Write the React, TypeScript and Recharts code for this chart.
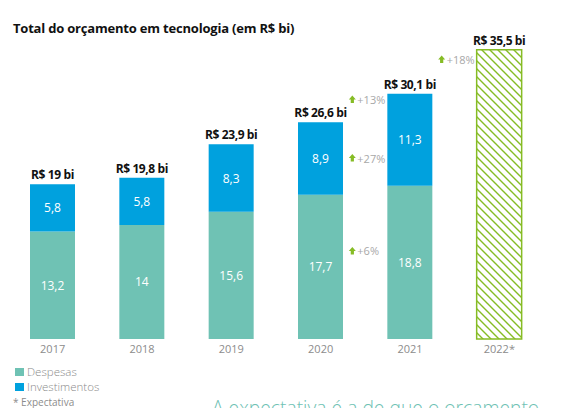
import React from "react";
import { BarChart, Bar, XAxis, YAxis, LabelList, ReferenceDot } from "recharts";

const years = ["2017", "2018", "2019", "2020", "2021", "2022*"];
const despesas = [13.2, 14, 15.6, 17.7, 18.8, null];
const investimentos = [5.8, 5.8, 8.3, 8.9, 11.3, null];
const expectativa = [null, null, null, null, null, 35.5];
const totalLabels = ["R$ 19 bi", "R$ 19,8 bi", "R$ 23,9 bi", "R$ 26,6 bi", "R$ 30,1 bi", "R$ 35,5 bi"];
const growthYears = ["2021", "2021", "2021", "2022*"];
const growthLevels = [10.8, 22.2, 29.4, 34.3];
const growthTexts = ["+6%", "+27%", "+13%", "+18%"];

const data = years.map((year, i) => ({
  year,
  despesas: despesas[i],
  investimentos: investimentos[i],
  expectativa: expectativa[i],
  totalLabel: totalLabels[i],
}));

const W = 568;
const H = 408;
const MARGIN = { top: 13, right: 24, bottom: 49, left: 8 };
const BAND = (W - MARGIN.left - MARGIN.right) / years.length;

const TEAL = "#6fc2b4";
const BLUE = "#00a1de";
const GREEN = "#86bc25";
const GREY = "#8c8c8c";
const FONT = "'Open Sans', sans-serif";

const fmt = (v: any) => (v == null ? "" : String(v).replace(".", ","));

const TopLabel = (props: any) => {
  const { x, y, width, height, value } = props;
  if (!height || height <= 0 || value == null) return null;
  return (
    <text
      x={x + width / 2}
      y={y - 5}
      textAnchor="middle"
      fontFamily={FONT}
      fontWeight={700}
      fontSize={12}
      letterSpacing={-0.4}
      fill="#111"
    >
      {value}
    </text>
  );
};

const InnerLabel = (props: any) => {
  const { x, y, width, height, value } = props;
  if (!height || height <= 0 || value == null) return null;
  return (
    <text
      x={x + width / 2}
      y={y + height / 2}
      textAnchor="middle"
      dominantBaseline="central"
      fontFamily={FONT}
      fontSize={12}
      fill="#fff"
    >
      {fmt(value)}
    </text>
  );
};

const growthShape = (text: string) => (props: any) => {
  const { cx, cy } = props;
  const bx = cx - BAND / 2;
  const ax = bx - 13;
  return (
    <g>
      <path
        d={`M${ax},${cy - 4} L${ax + 3.5},${cy} L${ax + 1.6},${cy} L${ax + 1.6},${cy + 3.5} L${ax - 1.6},${cy + 3.5} L${ax - 1.6},${cy} L${ax - 3.5},${cy} Z`}
        fill={GREEN}
      />
      <text
        x={ax + 5}
        y={cy}
        dominantBaseline="central"
        fontFamily={FONT}
        fontSize={11}
        fill="#a8a8a8"
      >
        {text}
      </text>
    </g>
  );
};

export default function App() {
  return (
    <div
      style={{
        position: "absolute",
        left: 0,
        top: 0,
        width: W,
        height: H,
        overflow: "hidden",
        background: "#fff",
        fontFamily: FONT,
      }}
    >
      <div
        style={{
          position: "absolute",
          left: 13,
          top: 19,
          fontSize: 13,
          lineHeight: "18px",
          fontWeight: 700,
          letterSpacing: -0.2,
          color: "#111",
          whiteSpace: "nowrap",
        }}
      >
        Total do orçamento em tecnologia (em R$ bi)
      </div>
      <BarChart width={W} height={H} data={data} margin={MARGIN} barSize={45}>
        <defs>
          <pattern id="hatch" patternUnits="userSpaceOnUse" width="8" height="8">
            <path
              d="M-2,-2 L10,10 M-2,6 L2,10 M6,-2 L10,2"
              stroke={GREEN}
              strokeWidth={1.4}
            />
          </pattern>
        </defs>
        <XAxis
          dataKey="year"
          axisLine={false}
          tickLine={false}
          height={20}
          tickSize={4}
          tick={{ fill: GREY, fontSize: 11, fontFamily: FONT }}
        />
        <YAxis hide domain={[0, 40]} />
        <Bar dataKey="despesas" stackId="a" fill={TEAL} isAnimationActive={false}>
          <LabelList dataKey="despesas" content={InnerLabel} />
        </Bar>
        <Bar dataKey="investimentos" stackId="a" fill={BLUE} isAnimationActive={false}>
          <LabelList dataKey="investimentos" content={InnerLabel} />
          <LabelList dataKey="totalLabel" content={TopLabel} />
        </Bar>
        <Bar
          dataKey="expectativa"
          stackId="a"
          fill="url(#hatch)"
          stroke={GREEN}
          strokeWidth={1.5}
          isAnimationActive={false}
        >
          <LabelList dataKey="totalLabel" content={TopLabel} />
        </Bar>
        {growthYears.map((yr, i) => (
          <ReferenceDot
            key={i}
            x={yr}
            y={growthLevels[i]}
            r={0}
            ifOverflow="visible"
            shape={growthShape(growthTexts[i])}
          />
        ))}
      </BarChart>
      <div style={{ position: "absolute", left: 15, top: 364, fontSize: 11.5, lineHeight: "15px", color: GREY, fontWeight: 300 }}>
        <div style={{ display: "flex", alignItems: "center", height: 15 }}>
          <span style={{ display: "inline-block", width: 9, height: 8, background: TEAL, marginRight: 3 }} />
          Despesas
        </div>
        <div style={{ display: "flex", alignItems: "center", height: 15 }}>
          <span style={{ display: "inline-block", width: 9, height: 8, background: BLUE, marginRight: 3 }} />
          Investimentos
        </div>
      </div>
      <div style={{ position: "absolute", left: 13, top: 396, fontSize: 10, lineHeight: "12px", color: GREY, whiteSpace: "nowrap" }}>
        * Expectativa
      </div>
      <div
        style={{
          position: "absolute",
          left: 212,
          top: 394,
          fontSize: 19.3,
          fontWeight: 300,
          color: TEAL,
          whiteSpace: "nowrap",
          lineHeight: "28px",
        }}
      >
        A expectativa é a de que o orçamento
      </div>
    </div>
  );
}
